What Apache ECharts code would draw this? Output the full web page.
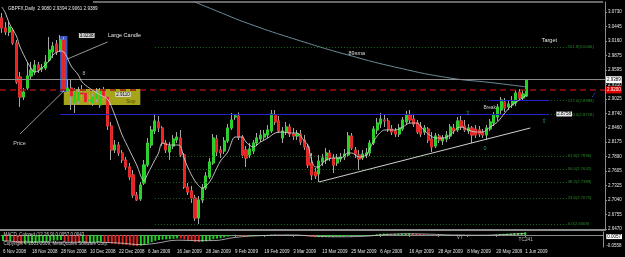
<!DOCTYPE html>
<html><head><meta charset="utf-8">
<script src="https://cdn.jsdelivr.net/npm/echarts@6/dist/echarts.min.js"></script>
<style>html,body{margin:0;padding:0;background:#000;}#c{width:625px;height:257px;}</style>
</head><body><div id="c"></div>
<script>
// ---- categories (trading days) ----
const nov08=[6,7,10,11,12,13,14,17,18,19,20,21,24,25,26,27,28];
const dec08=[1,2,3,4,5,8,9,10,11,12,15,16,17,18,19,22,23,24,29,30,31];
const jan09=[2,5,6,7,8,9,12,13,14,15,16,19,20,21,22,23,26,27,28,29,30];
const feb09=[2,3,4,5,6,9,10,11,12,13,16,17,18,19,20,23,24,25,26,27];
const mar09=[2,3,4,5,6,9,10,11,12,13,16,17,18,19,20,23,24,25,26,27,30,31];
const apr09=[1,2,3,6,7,8,9,10,13,14,15,16,17,20,21,22,23,24,27,28,29,30];
const may09=[1,4,5,6,7,8,11,12,13,14,15,18,19,20,21,22,25,26,27,28,29];
const jun09=[1];

// ---- OHLC ----
const opens=[3.0611,3.0415,3.0336,3.0375,3.0120,2.9453,2.9060,2.9237,2.9473,2.9551,
2.9689,2.9610,2.9630,2.9787,2.9944,3.0101,2.9983,3.0179,2.9178,2.9237,
2.8943,2.8982,2.9139,2.9139,2.8982,2.8943,2.9021,2.8904,2.9198,2.9060,
2.8491,2.8020,2.8118,2.7961,2.7824,2.7687,2.7530,2.7137,2.7059,2.7373,
2.7726,2.8118,2.8393,2.8570,2.8452,2.8157,2.7981,2.8098,2.8216,2.8256,
2.7922,2.7294,2.7216,2.7078,2.6686,2.7039,2.7274,2.7490,2.7765,2.8236,
2.8020,2.8000,2.8197,2.8452,2.8668,2.8688,2.8275,2.8020,2.7922,2.8000,
2.8157,2.8236,2.8275,2.8314,2.8393,2.8707,2.8590,2.8256,2.8373,2.8472,
2.8334,2.8295,2.8334,2.8216,2.8079,2.7765,2.7588,2.7549,2.7785,2.7824,
2.7961,2.7863,2.7765,2.7843,2.7883,2.7922,2.8295,2.8020,2.7922,2.7863,
2.7922,2.7961,2.8157,2.8413,2.8531,2.8609,2.8590,2.8432,2.8393,2.8334,
2.8432,2.8570,2.8707,2.8629,2.8550,2.8491,2.8373,2.8432,2.8236,2.8098,
2.8295,2.8197,2.8236,2.8295,2.8452,2.8413,2.8590,2.8491,2.8393,2.8452,
2.8432,2.8413,2.8373,2.8314,2.8432,2.8550,2.8668,2.8805,2.8962,2.8864,
2.8904,2.8943,2.9158,2.9041,2.9080];
const closes=[3.0415,3.0336,3.0434,3.0120,2.9355,2.9060,2.9158,2.9473,2.9590,2.9689,
2.9590,2.9630,2.9747,2.9983,3.0061,2.9944,3.0179,2.9198,2.9237,2.9080,
2.9158,2.9158,2.9119,2.8962,2.9002,2.9060,2.9139,2.9198,2.9060,2.8491,
2.8020,2.8118,2.7961,2.7824,2.7687,2.7490,2.7137,2.7039,2.7333,2.7726,
2.8157,2.8413,2.8590,2.8452,2.8157,2.8020,2.8098,2.8236,2.8275,2.7922,
2.7294,2.7196,2.7078,2.6686,2.7039,2.7274,2.7510,2.7785,2.8256,2.7981,
2.7961,2.8197,2.8452,2.8609,2.8688,2.8275,2.7922,2.7863,2.8040,2.8157,
2.8256,2.8314,2.8334,2.8413,2.8727,2.8570,2.8393,2.8393,2.8472,2.8334,
2.8295,2.8334,2.8177,2.8079,2.7726,2.7530,2.7510,2.7804,2.7863,2.7961,
2.7863,2.7726,2.7863,2.7883,2.7941,2.8295,2.8059,2.7941,2.7843,2.7941,
2.7961,2.8157,2.8432,2.8550,2.8629,2.8590,2.8432,2.8373,2.8334,2.8452,
2.8609,2.8707,2.8609,2.8531,2.8373,2.8334,2.8452,2.8216,2.8079,2.8295,
2.8216,2.8256,2.8314,2.8472,2.8393,2.8590,2.8472,2.8413,2.8452,2.8314,
2.8314,2.8334,2.8314,2.8452,2.8570,2.8707,2.8864,2.9002,2.8845,2.8923,
2.8982,2.9139,2.9041,2.9119,2.9389];
const lows=[3.0317,3.0277,3.0258,3.0081,2.9315,2.8864,2.9002,2.9198,2.9394,2.9492,
2.9531,2.9551,2.9590,2.9747,2.9826,2.9885,2.9944,2.9158,2.9139,2.8805,
2.8747,2.8923,2.9002,2.8923,2.8923,2.8884,2.8962,2.8845,2.9002,2.8413,
2.7824,2.7961,2.7902,2.7765,2.7628,2.7431,2.7078,2.7020,2.7020,2.7333,
2.7687,2.8059,2.8334,2.8373,2.8098,2.7961,2.7824,2.8040,2.8157,2.7883,
2.7255,2.7137,2.6980,2.6627,2.6568,2.6980,2.7235,2.7451,2.7726,2.7902,
2.7863,2.7941,2.8157,2.8413,2.8609,2.8216,2.7863,2.7687,2.7863,2.7941,
2.8098,2.8177,2.8216,2.8256,2.8354,2.8511,2.8354,2.8157,2.8314,2.8275,
2.8216,2.8216,2.8118,2.8020,2.7667,2.7431,2.7451,2.7392,2.7706,2.7745,
2.7804,2.7569,2.7706,2.7785,2.7824,2.7883,2.8020,2.7863,2.7628,2.7824,
2.7863,2.7902,2.8118,2.8334,2.8452,2.8472,2.8373,2.8314,2.8275,2.8275,
2.8393,2.8511,2.8550,2.8472,2.8334,2.8275,2.8314,2.8157,2.7981,2.8059,
2.8157,2.8118,2.8177,2.8236,2.8334,2.8373,2.8413,2.8373,2.8334,2.8157,
2.8256,2.8275,2.8256,2.8216,2.8393,2.8491,2.8590,2.8727,2.8766,2.8805,
2.8845,2.8884,2.8982,2.8982,2.9061];
const highs=[3.0709,3.0532,3.0532,3.0415,3.0179,2.9551,2.9237,2.9728,2.9747,2.9787,
2.9747,2.9708,2.9885,3.0238,3.0140,3.0179,3.0277,3.0238,2.9394,2.9394,
2.9237,2.9257,2.9296,2.9198,2.9100,2.9119,2.9237,2.9237,2.9257,2.9100,
2.8570,2.8216,2.8177,2.8020,2.7883,2.7765,2.7628,2.7196,2.7392,2.7824,
2.8256,2.8491,2.8707,2.8688,2.8491,2.8216,2.8177,2.8314,2.8373,2.8413,
2.7961,2.7373,2.7314,2.7137,2.7118,2.7353,2.7588,2.7863,2.8334,2.8314,
2.8098,2.8275,2.8531,2.8747,2.8718,2.8758,2.8314,2.8098,2.8157,2.8216,
2.8354,2.8413,2.8413,2.8511,2.8805,2.8805,2.8688,2.8472,2.8570,2.8531,
2.8452,2.8413,2.8413,2.8314,2.8138,2.7961,2.7667,2.7922,2.7941,2.8059,
2.8020,2.7941,2.7941,2.7961,2.8040,2.8373,2.8354,2.8079,2.8020,2.8020,
2.8059,2.8216,2.8491,2.8649,2.8747,2.8707,2.8649,2.8511,2.8452,2.8531,
2.8668,2.8786,2.8805,2.8707,2.8609,2.8570,2.8511,2.8472,2.8373,2.8354,
2.8334,2.8314,2.8393,2.8531,2.8531,2.8668,2.8688,2.8609,2.8531,2.8491,
2.8511,2.8491,2.8432,2.8511,2.8629,2.8766,2.8923,2.9060,2.9041,2.9002,
2.9080,2.9198,2.9217,2.9198,2.9394];

// ---- moving averages (read points: [bar index, price]) ----
const maFast=[[0,3.0827],[1,3.0709],[2,3.0513],[4,3.0258],[5,3.0042],[7,2.9747],[8,2.9630],[9,2.9551],[10,2.9571],[11,2.9630],[13,2.9767],[14,2.9885],[16,2.9963],[17,2.9944],[18,2.9826],[19,2.9669],[21,2.9492],[22,2.9355],[24,2.9237],[27,2.9100],[29,2.9021],[31,2.8707],[32,2.8511],[33,2.8315],[35,2.8020],[37,2.7726],[39,2.7412],[40,2.7549],[41,2.7687],[42,2.7824],[43,2.7961],[44,2.8157],[46,2.8118],[48,2.8118],[49,2.8098],[50,2.7863],[51,2.7687],[53,2.7412],[55,2.7274],[57,2.7392],[59,2.7667],[60,2.7804],[62,2.7981],[64,2.8275],[66,2.8275],[67,2.8177],[69,2.8079],[71,2.8177],[73,2.8256],[75,2.8354],[77,2.8374],[79,2.8354],[81,2.8354],[83,2.8197],[84,2.8118],[85,2.7824],[86,2.7687],[87,2.7687],[88,2.7765],[89,2.7824],[91,2.7863],[93,2.7863],[95,2.7961],[96,2.7961],[98,2.7883],[100,2.7922],[101,2.8059],[103,2.8295],[105,2.8413],[106,2.8413],[108,2.8413],[110,2.8472],[112,2.8550],[114,2.8550],[115,2.8472],[117,2.8334],[119,2.8256],[121,2.8256],[123,2.8315],[125,2.8452],[126,2.8472],[128,2.8413],[130,2.8374],[132,2.8374],[134,2.8472],[136,2.8570],[138,2.8746],[140,2.8903],[142,2.9001],[144,2.9100]];
const sma89=[[44,3.1199],[48,3.1082],[53,3.0925],[59,3.0748],[68,3.0493],[82,3.0160],[95,2.9885],[109,2.9630],[123,2.9433],[134,2.9345],[144,2.9257]];

// ---- MACD ----
const macdVals=[-0.030,-0.032,-0.031,-0.034,-0.040,-0.045,-0.044,-0.042,-0.041,
-0.039,-0.038,-0.037,-0.035,-0.031,-0.028,-0.027,-0.025,
-0.030,-0.033,-0.035,-0.036,-0.037,-0.037,-0.038,-0.038,-0.037,-0.036,-0.034,-0.035,
-0.039,-0.043,-0.045,-0.047,-0.049,-0.050,-0.052,-0.055,-0.056,
-0.053,-0.049,-0.043,-0.036,-0.029,
-0.025,-0.023,-0.022,-0.021,-0.019,-0.017,
-0.018,-0.022,-0.026,-0.030,-0.035,-0.036,
-0.034,-0.031,-0.027,-0.021,-0.018,-0.016,-0.012,-0.008,-0.003,0.001,
-0.001,-0.003,-0.005,-0.005,-0.004,-0.003,-0.002,-0.001,0.000,
0.002,0.002,0.001,0.000,0.001,0.000,-0.001,-0.001,-0.002,-0.003,
-0.006,-0.009,-0.011,-0.011,-0.011,-0.010,-0.010,-0.010,
-0.009,-0.009,-0.008,-0.005,-0.004,-0.004,-0.004,-0.004,-0.003,
-0.002,0.001,0.004,0.006,0.007,0.007,0.006,0.006,0.006,0.007,0.008,0.008,
0.007,0.006,0.005,0.004,0.002,0.000,-0.001,-0.001,-0.001,-0.001,0.000,0.000,
0.001,0.001,0.001,0.000,-0.001,-0.001,-0.002,-0.002,-0.002,-0.001,
0.001,0.003,0.005,0.006,0.007,0.008,0.010,0.010,0.011,0.014];
const macdSignal=[[0,-0.028],[8,-0.036],[16,-0.036],[24,-0.036],[32,-0.040],[38,-0.048],[42,-0.042],[48,-0.026],[53,-0.028],[58,-0.028],[64,-0.012],[70,-0.004],[80,0.000],[86,-0.006],[92,-0.009],[100,-0.006],[106,0.003],[112,0.006],[118,0.004],[124,0.000],[132,-0.001],[138,0.002],[144,0.008]];

// ---- axis ticks / levels ----
const priceTicks=[3.0730,3.0445,3.0160,2.9875,2.9595,2.9310,2.9025,2.8740,2.8460,2.8175,2.7890,2.7605,2.7325,2.7040,2.6755,2.6470];
const fibLevels=[[161.8,3.0046],[127.0,2.8989],[100.0,2.8718],[61.8,2.7896],[50.0,2.7642],[38.2,2.7389],[23.6,2.7075],[0.0,2.6568]];
const bidPrice=2.9389, redLevel=2.9200, neckline=2.8718, breakLevel=2.8989;

// ---- build ----
const mk=(arr,mon,yr)=>arr.map(d=>d+' '+mon+' '+yr);
const dates=[].concat(mk(nov08,'Nov',2008),mk(dec08,'Dec',2008),mk(jan09,'Jan',2009),mk(feb09,'Feb',2009),mk(mar09,'Mar',2009),mk(apr09,'Apr',2009),mk(may09,'May',2009),mk(jun09,'Jun',2009));
const N=dates.length;
const cats=dates.concat(Array.from({length:21},(_,k)=>'pad'+k));
const ohlc=dates.map((_,i)=>[opens[i],closes[i],lows[i],highs[i]]);
const bodies=dates.map((_,i)=>[opens[i],closes[i],Math.min(opens[i],closes[i]),Math.max(opens[i],closes[i])]);

const FONT='Liberation Sans, Arial, sans-serif';
const GRAY='#8c8c8c';
function note(i,v,text,extra){
  return {coord:[i,v],symbol:'circle',symbolSize:1,itemStyle:{color:'rgba(0,0,0,0)'},
    label:Object.assign({show:true,position:'right',distance:0,formatter:text,color:'#d8d8d8',fontSize:5.5,fontFamily:FONT},extra||{})};
}
function seg(i1,v1,i2,v2,style,label){
  return [{coord:[i1,v1],lineStyle:style,label:label||{show:false}},{coord:[i2,v2]}];
}
const fibLines=fibLevels.map(f=>seg(42,f[1],155,f[1],{color:'#1d6b1d',type:[1,2],width:1},
  {show:true,position:'end',distance:1,formatter:f[0].toFixed(1)+'('+f[1].toFixed(4)+')',color:'#2a8a2a',fontSize:4.2,fontFamily:FONT}));

const chart=echarts.init(document.getElementById('c'));
chart.setOption({
  backgroundColor:'#000',
  animation:false,
  title:{text:'GBPFX,Daily  2.9080 2.9394 2.9061 2.9389',left:3,top:1,textStyle:{color:'#e8e8e8',fontSize:4.6,fontWeight:'normal',fontFamily:FONT}},
  grid:[{left:0,right:20,top:2,height:228},{left:0,right:20,top:232,height:15}],
  xAxis:[
    {type:'category',data:cats,gridIndex:0,axisLabel:{show:false},axisTick:{show:false},
     axisLine:{show:true,lineStyle:{color:GRAY,width:2}}},
    {type:'category',data:cats,gridIndex:1,
     axisLine:{show:true,lineStyle:{color:GRAY,width:1}},
     axisTick:{show:true,alignWithLabel:true,length:2,lineStyle:{color:GRAY},interval:(i)=>i%8===0&&i<N},
     axisLabel:{show:true,interval:(i)=>i%8===0&&i<N,align:'left',margin:2,color:'#e0e0e0',fontSize:4.5,fontFamily:FONT}}
  ],
  yAxis:[
    {type:'value',gridIndex:0,position:'right',min:2.6450,max:3.0925,splitLine:{show:false},
     axisLine:{show:true,lineStyle:{color:GRAY,width:1}},
     axisTick:{show:true,length:2,lineStyle:{color:GRAY},customValues:priceTicks},
     axisLabel:{show:true,customValues:priceTicks,formatter:v=>v.toFixed(4),color:'#e6e6e6',fontSize:4.5,margin:3,fontFamily:FONT}},
    {type:'value',gridIndex:1,position:'right',min:-0.06,max:0.015,splitLine:{show:false},
     axisLine:{show:true,lineStyle:{color:GRAY,width:1}},
     axisTick:{show:false},
     axisLabel:{show:true,customValues:[-0.008,-0.0558],
       formatter:v=>v>-0.05?'{b|0.0057}':v.toFixed(4),
       rich:{b:{backgroundColor:'#fff',color:'#000',padding:[0,1],fontSize:4.5}},
       color:'#e6e6e6',fontSize:4.5,margin:3,fontFamily:FONT}}
  ],
  series:[
    {name:'sma89',type:'line',data:sma89,smooth:0.5,symbol:'none',z:2,
     lineStyle:{color:'#6b8d9c',width:1},
     markArea:{silent:true,data:[
       [{coord:[17,2.9217],itemStyle:{color:'#a6a41a'}},{coord:[38,2.8904]}],
       [{coord:[16,3.0258],itemStyle:{color:'#3a5acc'}},{coord:[18,2.9158]}]
     ]}},
    {name:'wick',type:'candlestick',data:ohlc,barWidth:2.6,z:3,
     itemStyle:{color:'rgba(0,0,0,0)',color0:'rgba(0,0,0,0)',borderColor:'#a8a8a8',borderColor0:'#a8a8a8',borderWidth:1}},
    {name:'body',type:'candlestick',data:bodies,barWidth:2.6,z:4,
     itemStyle:{color:'#22d422',color0:'#ec2020',borderColor:'#22d422',borderColor0:'#ec2020',borderWidth:0.8}},
    {name:'ma',type:'line',data:maFast,smooth:0.3,symbol:'none',z:5,
     lineStyle:{color:'#cfcfcf',width:0.9},
     markLine:{silent:true,symbol:'none',animation:false,data:[
       {yAxis:bidPrice,lineStyle:{color:'#8a8a8a',type:'solid',width:1},
        label:{show:true,position:'end',distance:1,formatter:bidPrice.toFixed(4),backgroundColor:'#fff',color:'#000',padding:[1,1],fontSize:4.5,fontFamily:FONT}},
       {yAxis:redLevel,lineStyle:{color:'#9c1010',type:[6,4],width:1.5},
        label:{show:true,position:'end',distance:1,formatter:redLevel.toFixed(4),backgroundColor:'#e00000',color:'#fff',padding:[1,1],fontSize:4.5,fontFamily:FONT}},
       seg(25,3.0921,165,3.0921,{color:'#8a8a8a',type:'solid',width:1.5}),
       ...fibLines,
       seg(16,neckline,150,neckline,{color:'#2222cc',type:'solid',width:1}),
       seg(134,breakLevel,150,breakLevel,{color:'#2222cc',type:'solid',width:1}),
       seg(87,2.7392,145,2.8452,{color:'#d0d0d0',type:'solid',width:1}),
       seg(18,2.9806,29,3.0140,{color:'#bdbdbd',type:'solid',width:0.8}),
       seg(5,2.8334,17,2.9178,{color:'#bdbdbd',type:'solid',width:0.8}),
       seg(162,2.9060,163,2.9160,{color:'#2a4ad8',type:[2,1],width:1})
     ]},
     markPoint:{silent:true,animation:false,data:[
       note(29,3.0267,'Large Candle',{color:'#e6e6e6'}),
       note(3,2.8148,'Price',{color:'#cfcfcf'}),
       note(21,3.0268,'3.0238',{backgroundColor:'#cfcfcf',color:'#000',fontSize:4.5,padding:[0,1]}),
       note(31,2.9110,'2.9110',{backgroundColor:'#d8d8c8',color:'#000',fontSize:4.5,padding:[0,1]}),
       note(34,2.8962,'Stop',{color:'#4a4a10',fontSize:4.5}),
       note(22,2.9512,'8',{color:'#bbbbbb',fontSize:5}),
       note(95,2.9905,'89sma',{color:'#dddddd'}),
       note(148,3.0165,'Target',{color:'#e6e6e6'}),
       note(132,2.8845,'Break',{color:'#cfcfcf',fontSize:4.8}),
       note(152,2.8727,'2.8758',{backgroundColor:'#e6e6e6',color:'#000',fontSize:4.5,padding:[0,1]}),
       note(127,2.8747,'⇧',{color:'#1fa8a8',fontSize:6,fontFamily:'DejaVu Sans'}),
       note(148,2.8590,'⇧',{color:'#1fa8a8',fontSize:6,fontFamily:'DejaVu Sans'}),
       note(132,2.8059,'0',{color:'#1f9a8a',fontSize:5.5})
     ]}},
    {name:'macd',type:'bar',xAxisIndex:1,yAxisIndex:1,data:macdVals,barWidth:2,
     itemStyle:{color:(p)=>{const i=p.dataIndex;return (i===0||macdVals[i]>=macdVals[i-1])?'#22cc22':'#dd2222';}},
     markPoint:{silent:true,animation:false,data:[
       note(0,0.0,'MACD_Colored (12,26,9) 0.0057 0.0043',{color:'#cfcfcf',fontSize:4.5}),
       note(0,-0.0425,'Copyright © 2001-2009, MetaQuotes Software Corp.',{color:'#cfcfcf',fontSize:4.5}),
       note(125,-0.011,'VT',{color:'#bbbbbb',fontSize:4.8}),
       note(142,-0.025,'TC241',{color:'#bbbbbb',fontSize:4.8})
     ]}},
    {name:'signal',type:'line',xAxisIndex:1,yAxisIndex:1,data:macdSignal,smooth:0.4,symbol:'none',
     lineStyle:{color:'#c8c8c8',width:0.8}}
  ]
});
</script></body></html>
